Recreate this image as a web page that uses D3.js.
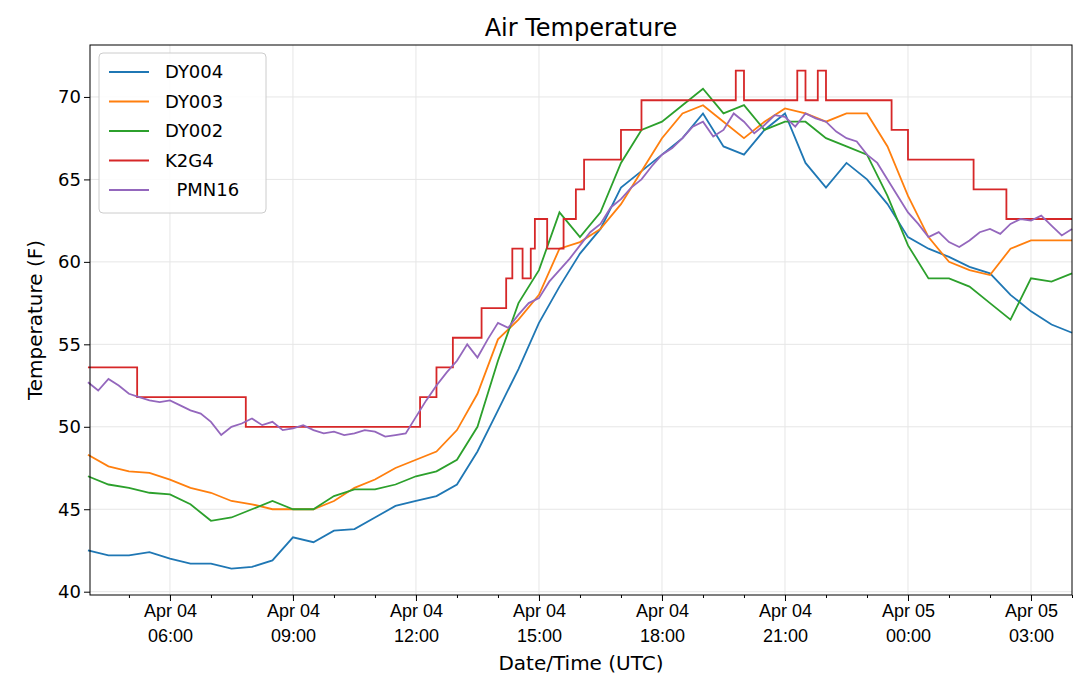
<!DOCTYPE html>
<html><head><meta charset="utf-8">
<script src="https://cdn.jsdelivr.net/npm/d3@7"></script>
<style>body{margin:0;background:#fff;font-family:"DejaVu Sans",sans-serif}</style>
</head><body><svg id="c" width="1080" height="680"></svg>
<script>
// hours since Apr 04 00:00 UTC
var hours30 = [4,4.5,5,5.5,6,6.5,7,7.5,8,8.5,9,9.5,10,10.5,11,11.5,12,12.5,13,13.5,14,14.5,15,15.5,16,16.5,17,17.5,18,18.5,19,19.5,20,20.5,21,21.5,22,22.5,23,23.5,24,24.5,25,25.5,26,26.5,27,27.5,28];
var dy004 = [42.5,42.2,42.2,42.4,42.0,41.7,41.7,41.4,41.5,41.9,43.3,43.0,43.7,43.8,44.5,45.2,45.5,45.8,46.5,48.5,51,53.5,56.3,58.5,60.5,62,64.5,65.5,66.5,67.5,69,67,66.5,68,69,66,64.5,66,65,63.5,61.5,60.8,60.3,59.7,59.3,58,57,56.2,55.7];
var dy003 = [48.3,47.6,47.3,47.2,46.8,46.3,46.0,45.5,45.3,45.0,45.0,45.0,45.5,46.3,46.8,47.5,48.0,48.5,49.8,52,55.3,56.5,58,60.8,61.2,62,63.5,65.5,67.5,69,69.5,68.5,67.5,68.5,69.3,69,68.5,69,69,67,64,61.5,60,59.5,59.2,60.8,61.3,61.3,61.3];
var dy002 = [47,46.5,46.3,46.0,45.9,45.3,44.3,44.5,45.0,45.5,45.0,45.0,45.8,46.2,46.2,46.5,47.0,47.3,48.0,50,54,57.5,59.5,63,61.5,63,66,68,68.5,69.5,70.5,69,69.5,68,68.5,68.5,67.5,67,66.5,64,61,59,59,58.5,57.5,56.5,59,58.8,59.3];
var k2g4Times = [4,5.2,7.85,12.1,12.5,12.9,13.6,14.2,14.35,14.6,14.8,14.9,15.2,15.6,15.9,16.1,17.0,17.5,19.8,20.0,21.3,21.5,21.8,22.0,23.6,24,25.6,26.4,28];
var k2g4 = [53.6,51.8,50.0,51.8,53.6,55.4,57.2,59.0,60.8,59.0,60.8,62.6,60.8,62.6,64.4,66.2,68.0,69.8,71.6,69.8,71.6,69.8,71.6,69.8,68,66.2,64.4,62.6,62.6];
var pmnTimes = [4,4.25,4.5,4.75,5,5.25,5.5,5.75,6,6.25,6.5,6.75,7,7.25,7.5,7.75,8,8.25,8.5,8.75,9,9.25,9.5,9.75,10,10.25,10.5,10.75,11,11.25,11.5,11.75,12,12.25,12.5,12.75,13,13.25,13.5,13.75,14,14.25,14.5,14.75,15,15.25,15.5,15.75,16,16.25,16.5,16.75,17,17.25,17.5,17.75,18,18.25,18.5,18.75,19,19.25,19.5,19.75,20,20.25,20.5,20.75,21,21.25,21.5,21.75,22,22.25,22.5,22.75,23,23.25,23.5,23.75,24,24.25,24.5,24.75,25,25.25,25.5,25.75,26,26.25,26.5,26.75,27,27.25,27.5,27.75,28];
var pmn16 = [52.7,52.2,52.9,52.5,52.0,51.8,51.6,51.5,51.6,51.3,51.0,50.8,50.3,49.5,50.0,50.2,50.5,50.1,50.3,49.8,49.9,50.1,49.8,49.6,49.7,49.5,49.6,49.8,49.7,49.4,49.5,49.6,50.6,51.6,52.5,53.3,54.0,55.0,54.2,55.3,56.3,56.0,56.8,57.5,57.8,58.8,59.5,60.2,61,61.8,62.3,63.3,63.8,64.5,65,65.8,66.5,66.9,67.5,68.2,68.5,67.6,68,69,68.5,67.8,68.3,68.9,68.8,68.2,69,68.7,68.5,67.9,67.5,67.3,66.5,66.0,65,64.0,63,62.3,61.5,61.8,61.2,60.9,61.3,61.8,62,61.7,62.3,62.6,62.5,62.8,62.2,61.6,62.0];

var seriesNames = ["DY004","DY003","DY002","K2G4","  PMN16"];
var colors = ["#1f77b4","#ff7f0e","#2ca02c","#d62728","#9467bd"];
var yTicks = [40,45,50,55,60,65,70];

var t0 = Date.UTC(2019,3,4);
function toDate(h){ return new Date(t0 + h*3600e3); }
function pairs(ts, vs){ return ts.map(function(h,i){ return {t: toDate(h), v: vs[i]}; }); }
var series = [pairs(hours30,dy004), pairs(hours30,dy003), pairs(hours30,dy002), pairs(k2g4Times,k2g4), pairs(pmnTimes,pmn16)];

var m = {l:90, r:1072, t:45, b:595};
var svg = d3.select("#c");
var x = d3.scaleUtc().domain([toDate(4.05), toDate(28)]).range([m.l, m.r]);
var y = d3.scaleLinear().domain([39.8, 73.15]).range([m.b, m.t]);

var grid = svg.append("g").attr("stroke","#e6e6e6").attr("stroke-width",1);
grid.selectAll(".gx").data(x.ticks(d3.utcHour.every(3))).join("line")
  .attr("x1",x).attr("x2",x).attr("y1",m.t).attr("y2",m.b);
grid.selectAll(".gy").data(yTicks).join("line")
  .attr("x1",m.l).attr("x2",m.r).attr("y1",y).attr("y2",y);

var line = d3.line().x(function(d){return x(d.t);}).y(function(d){return y(d.v);});
var stepLine = d3.line().curve(d3.curveStepAfter).x(function(d){return x(d.t);}).y(function(d){return y(d.v);});
var plot = svg.append("g");
series.forEach(function(s,i){
  plot.append("path").datum(s).attr("fill","none").attr("stroke",colors[i]).attr("stroke-width",1.8)
    .attr("d", i===3 ? stepLine : line);
});

var fmtD = d3.utcFormat("%b %d"), fmtT = d3.utcFormat("%H:%M");
var xa = svg.append("g").attr("transform","translate(0,"+m.b+")")
  .call(d3.axisBottom(x).ticks(d3.utcHour.every(3)).tickSize(6).tickFormat(""));
xa.selectAll(".tick").each(function(d){
  var t = d3.select(this).append("text").attr("fill","#000").attr("font-size",18).attr("text-anchor","middle");
  t.append("tspan").attr("x",0).attr("y",22).text(fmtD(d));
  t.append("tspan").attr("x",0).attr("y",47).text(fmtT(d));
});
svg.append("g").attr("transform","translate(0,"+m.b+")")
  .call(d3.axisBottom(x).ticks(d3.utcHour.every(1)).tickSize(3).tickFormat(""))
  .select(".domain").remove();
var ya = svg.append("g").attr("transform","translate("+m.l+",0)")
  .call(d3.axisLeft(y).tickValues(yTicks).tickSize(6).tickFormat(d3.format("d")));
ya.selectAll("text").attr("font-size",18).attr("fill","#000").attr("font-family","DejaVu Sans");
svg.selectAll(".domain").remove();
svg.append("rect").attr("x",m.l).attr("y",m.t).attr("width",m.r-m.l).attr("height",m.b-m.t)
  .attr("fill","none").attr("stroke","#000").attr("stroke-width",1);

svg.append("text").attr("x",(m.l+m.r)/2).attr("y",36).attr("text-anchor","middle").attr("font-size",24).text("Air Temperature");
svg.append("text").attr("x",(m.l+m.r)/2).attr("y",670).attr("text-anchor","middle").attr("font-size",20).text("Date/Time (UTC)");
svg.append("text").attr("transform","translate(42,"+((m.t+m.b)/2)+") rotate(-90)").attr("text-anchor","middle").attr("font-size",20).text("Temperature (F)");

var lg = svg.append("g").attr("transform","translate(99,53)");
lg.append("rect").attr("width",167).attr("height",160).attr("rx",4).attr("fill","#fff").attr("fill-opacity",0.85).attr("stroke","#ccc");
seriesNames.forEach(function(n,i){
  var yy = 19 + i*29.5;
  lg.append("line").attr("x1",10).attr("x2",50).attr("y1",yy).attr("y2",yy).attr("stroke",colors[i]).attr("stroke-width",1.8);
  lg.append("text").attr("x",66).attr("y",yy+6).attr("font-size",18).attr("xml:space","preserve").style("white-space","pre").text(n);
});
</script></body></html>
